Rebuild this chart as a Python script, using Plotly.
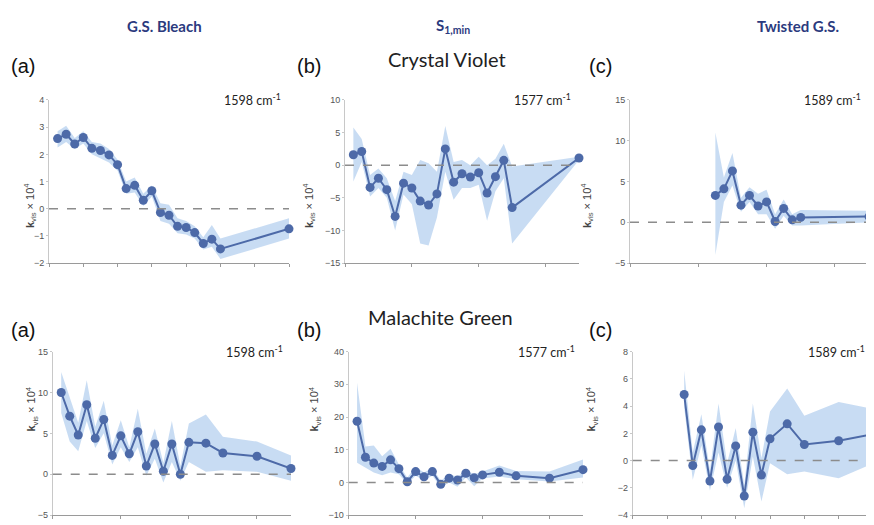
import plotly.graph_objects as go

# ---------------- data ----------------
# Crystal Violet (top row)
cv_a_x = [1,2,3,4,5,6,7,8,9,10,11,12,13,14,15,16,17,18,19,20,28]
cv_a_y = [2.58,2.74,2.38,2.62,2.22,2.14,1.98,1.62,0.74,0.86,0.31,0.66,-0.14,-0.24,-0.65,-0.69,-0.88,-1.28,-1.12,-1.48,-0.74]
cv_a_hi = [2.85,3.05,2.6,2.85,2.45,2.4,2.2,1.8,1.0,1.15,0.55,0.85,0.2,0.15,-0.35,-0.45,-0.65,-1.05,-0.6,-1.1,-0.35]
cv_a_lo = [2.25,2.45,2.2,2.4,2.0,1.85,1.7,1.4,0.55,0.6,0.1,0.45,-0.45,-0.55,-0.9,-0.95,-1.1,-1.5,-1.4,-1.85,-1.1]

cv_b_x = [1,2,3,4,5,6,7,8,9,10,11,12,13,14,15,16,17,18,19,20,28]
cv_b_y = [1.6,2.1,-3.4,-2.0,-3.75,-7.85,-2.75,-3.5,-5.5,-6.1,-4.4,2.5,-2.6,-1.3,-1.8,-1.15,-4.25,-1.75,0.75,-6.5,1.1]
cv_b_hi = [5.8,4.0,-1.5,-0.5,-2.0,-5.5,-1.0,-1.5,0.8,0.3,-1.0,6.0,0.5,0.8,0.0,1.3,0.0,1.0,3.3,-0.2,1.3]
cv_b_lo = [-2.5,0.5,-4.8,-3.5,-5.0,-10.0,-4.5,-6.0,-12.0,-12.3,-8.0,-1.0,-5.3,-3.5,-3.5,-3.0,-8.5,-4.0,-2.0,-12.0,0.8]

cv_c_x = [10,11,12,13,14,15,16,17,18,19,20,28]
cv_c_y = [3.3,4.1,6.3,2.1,3.3,2.0,2.5,0.1,1.7,0.3,0.6,0.7]
cv_c_hi = [11.0,5.5,8.5,3.0,4.3,3.5,4.0,1.0,2.8,1.0,1.5,1.4]
cv_c_lo = [-4.0,2.5,4.5,1.3,2.5,1.0,1.0,-0.8,0.8,-0.4,-0.4,0.0]

# Malachite Green (bottom row)
mg_a_x = [1,2,3,4,5,6,7,8,9,10,11,12,13,14,15,16,18,20,24,28]
mg_a_y = [10.0,7.1,4.8,8.5,4.4,6.7,2.3,4.7,2.5,5.2,1.0,3.7,0.36,3.7,0.0,3.9,3.8,2.6,2.2,0.7]
mg_a_hi = [12.5,9.5,6.3,11.5,5.8,9.0,3.5,6.6,3.3,8.0,2.5,5.6,1.4,6.5,1.0,6.2,7.3,4.6,4.0,2.3]
mg_a_lo = [7.5,4.0,2.8,6.5,3.2,5.0,1.2,3.3,1.5,3.3,-0.2,1.9,-1.0,1.5,-0.8,1.5,0.3,0.5,0.3,-0.8]

mg_b_x = [1,2,3,4,5,6,7,8,9,10,11,12,13,14,15,16,18,20,24,28]
mg_b_y = [18.7,7.7,5.9,4.9,6.9,4.2,0.2,3.3,1.7,3.3,-0.6,1.3,0.7,2.8,1.4,2.3,3.1,2.0,1.3,3.9]
mg_b_hi = [30.5,11.0,11.3,8.0,10.3,5.5,1.5,4.8,3.0,4.5,0.5,2.5,1.7,3.8,2.5,3.3,5.2,3.5,3.3,7.0]
mg_b_lo = [6.0,4.5,3.0,2.2,3.0,2.5,-0.5,2.0,0.6,2.0,-1.5,0.0,-1.3,1.5,-1.2,1.2,1.8,1.0,0.3,1.5]

mg_c_x = [6,7,8,9,10,11,12,13,14,15,16,18,20,24,28]
mg_c_y = [4.85,-0.36,2.26,-1.5,2.47,-1.37,1.08,-2.6,2.09,-1.06,1.6,2.7,1.18,1.46,1.94]
mg_c_hi = [6.6,0.6,3.4,-0.7,4.2,-0.2,2.4,-1.8,4.2,0.2,3.6,5.3,3.3,4.3,3.8]
mg_c_lo = [3.9,-1.4,1.1,-2.2,0.6,-2.0,0.0,-3.5,0.3,-3.0,-0.2,-1.0,-0.8,-1.3,-0.2]

wavenumbers = ["1598 cm<sup>-1</sup>", "1577 cm<sup>-1</sup>", "1589 cm<sup>-1</sup>"]
column_titles = ["G.S. Bleach", "S<sub>1,min</sub>", "Twisted G.S."]
row_titles = ["Crystal Violet", "Malachite Green"]
panel_letters = ["(a)", "(b)", "(c)"]

# ---------------- layout ----------------
# the page body has an 8px margin, so the figure is drawn 8px in from the top-left corner
OFF = 8
W, H = 874 - OFF, 525 - OFF
def fx(px): return (px - OFF) / W
def fy(py): return 1 - (py - OFF) / H

panels = [
    dict(x=cv_a_x, y=cv_a_y, hi=cv_a_hi, lo=cv_a_lo, xd=(49, 289), yd=(263, 96.7), yr=[-2, 4], dt=1, xt=4, to=29),
    dict(x=cv_b_x, y=cv_b_y, hi=cv_b_hi, lo=cv_b_lo, xd=(345, 579), yd=(263, 96.7), yr=[-15, 10], dt=5, xt=8, to=36),
    dict(x=cv_c_x, y=cv_c_y, hi=cv_c_hi, lo=cv_c_lo, xd=(630, 869), yd=(263, 96.7), yr=[-5, 15], dt=5, xt=8, to=33),
    dict(x=mg_a_x, y=mg_a_y, hi=mg_a_hi, lo=mg_a_lo, xd=(52.7, 291), yd=(520, 353.3), yr=[-5, 15], dt=5, xt=8, to=31),
    dict(x=mg_b_x, y=mg_b_y, hi=mg_b_hi, lo=mg_b_lo, xd=(348.7, 583), yd=(520, 353.3), yr=[-10, 40], dt=10, xt=8, to=34),
    dict(x=mg_c_x, y=mg_c_y, hi=mg_c_hi, lo=mg_c_lo, xd=(632.7, 873), yd=(520, 353.3), yr=[-4, 8], dt=2, xt=4, to=31),
]

LINE = "#4d6aa8"
BAND = "rgba(150,188,232,0.52)"

fig = go.Figure()
layout = dict(
    width=W, height=H, margin=dict(l=0, r=0, t=0, b=0),
    paper_bgcolor="white", plot_bgcolor="white", showlegend=False,
    annotations=[], shapes=[],
)

for i, p in enumerate(panels):
    n = i + 1
    xa = "x" if n == 1 else f"x{n}"
    ya = "y" if n == 1 else f"y{n}"
    fig.add_trace(go.Scatter(x=p["x"], y=p["hi"], mode="lines", line=dict(width=0, color=BAND),
                             xaxis=xa, yaxis=ya, hoverinfo="skip"))
    fig.add_trace(go.Scatter(x=p["x"], y=p["lo"], mode="lines", line=dict(width=0, color=BAND),
                             fill="tonexty", fillcolor=BAND, xaxis=xa, yaxis=ya, hoverinfo="skip"))
    fig.add_trace(go.Scatter(x=p["x"], y=p["y"], mode="lines+markers",
                             line=dict(color=LINE, width=2),
                             marker=dict(color=LINE, size=9),
                             cliponaxis=False, xaxis=xa, yaxis=ya))
    xkey = "xaxis" if n == 1 else f"xaxis{n}"
    ykey = "yaxis" if n == 1 else f"yaxis{n}"
    layout[xkey] = dict(domain=[fx(p["xd"][0]), min(1.0, fx(p["xd"][1]))], anchor=ya, range=[0, 28],
                        showgrid=False, zeroline=False, showline=True, linecolor="#9a9a9a", linewidth=1,
                        ticks="outside", ticklen=3, tickcolor="#9a9a9a", dtick=p["xt"], tick0=0,
                        showticklabels=False, fixedrange=True)
    layout[ykey] = dict(domain=[max(0.0, fy(p["yd"][0])), fy(p["yd"][1])], anchor=xa, range=p["yr"],
                        showgrid=False, zeroline=False, showline=True, linecolor="#c8c8c8", linewidth=1,
                        ticks="outside", ticklen=2, tickcolor="#c8c8c8", dtick=p["dt"],
                        tickfont=dict(size=9, color="#555555", family="Liberation Sans"),
                        fixedrange=True)
    layout["shapes"].append(dict(type="line", xref=f"{xa} domain", yref=ya, x0=0, x1=1, y0=0, y1=0,
                                 line=dict(color="#8c8c8c", width=1.5, dash="dash")))
    layout["annotations"].append(dict(
        text="<b>k</b><sub>vis</sub> × 10<sup>4</sup>", textangle=-90, showarrow=False,
        xref="paper", yref="paper",
        x=fx(p["xd"][0] - p["to"]), y=(fy(p["yd"][0]) + fy(p["yd"][1])) / 2,
        font=dict(size=11, color="#444444", family="Liberation Sans")))
    layout["annotations"].append(dict(
        text=wavenumbers[i % 3], showarrow=False, xref="paper", yref="paper",
        x=fx(p["xd"][1] - 6), y=fy(p["yd"][1]), xanchor="right", yanchor="middle",
        font=dict(size=12.5, color="#222222", family="Lato")))

# panel letters
letter_pos_top = [(9, 62), (295, 62), (587, 62)]
letter_pos_bot = [(9, 331), (295, 331), (587, 331)]
for (lx, ly), t in zip(letter_pos_top + letter_pos_bot, panel_letters + panel_letters):
    layout["annotations"].append(dict(text=t, showarrow=False, xref="paper", yref="paper",
                                      x=fx(lx), y=fy(ly), xanchor="left", yanchor="middle",
                                      font=dict(size=20, color="#111111",
                                                family="Liberation Sans Narrow, Liberation Sans")))

# column titles
for cx, t in zip([164, 453, 798], column_titles):
    layout["annotations"].append(dict(text="<b>" + t + "</b>", showarrow=False, xref="paper", yref="paper",
                                      x=fx(cx), y=fy(21), xanchor="center", yanchor="middle",
                                      font=dict(size=15, color="#2b3a7e", family="Lato")))

# row titles
for (cx, cy), t in zip([(447, 55), (440, 318)], row_titles):
    layout["annotations"].append(dict(text=t, showarrow=False, xref="paper", yref="paper",
                                      x=fx(cx), y=fy(cy), xanchor="center", yanchor="middle",
                                      font=dict(size=20, color="#222222", family="Lato")))

fig.update_layout(**layout)
fig.write_html("out.html")
